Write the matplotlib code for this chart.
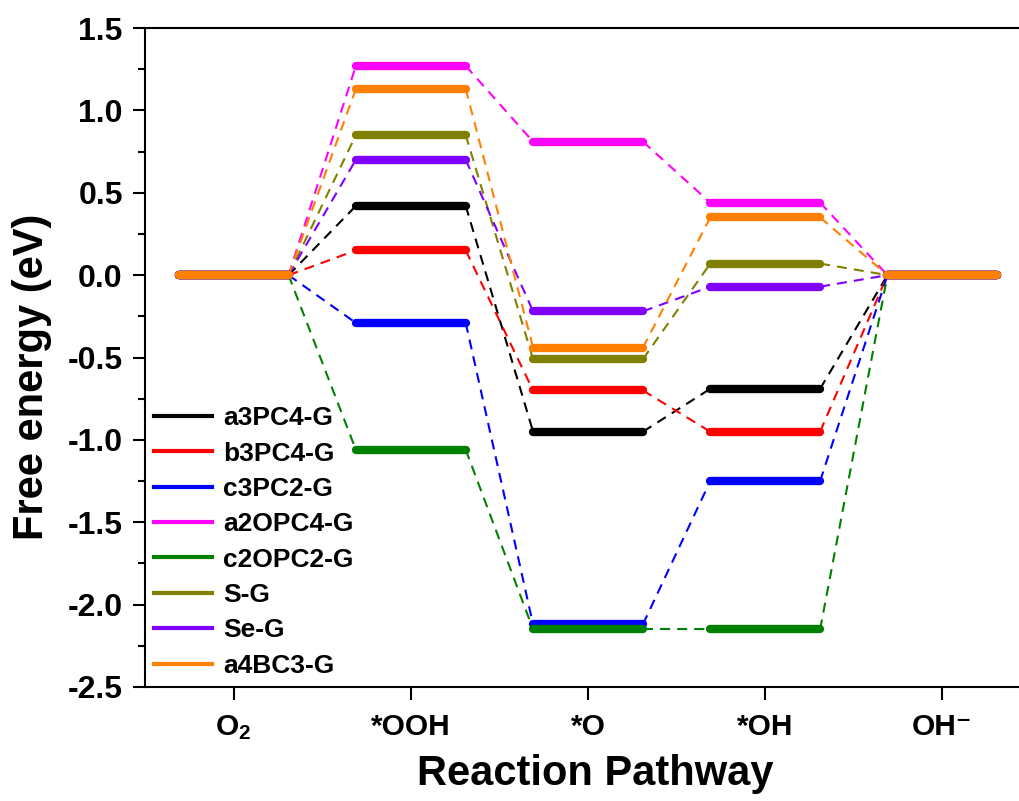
import matplotlib
matplotlib.use("Agg")
import matplotlib.pyplot as plt
from matplotlib.ticker import MultipleLocator, FormatStrFormatter

plt.rcParams['font.family'] = ['Liberation Sans', 'DejaVu Sans']
plt.rcParams['font.weight'] = 'bold'
plt.rcParams['mathtext.fontset'] = 'custom'
plt.rcParams['mathtext.rm'] = 'Liberation Sans:bold'
plt.rcParams['mathtext.bf'] = 'Liberation Sans:bold'
plt.rcParams['mathtext.default'] = 'rm'

steps = ['O$_2$', '*OOH', '*O', '*OH', 'OH⁻']
names = ['a3PC4-G', 'b3PC4-G', 'c3PC2-G', 'a2OPC4-G', 'c2OPC2-G', 'S-G', 'Se-G', 'a4BC3-G']
colors = ['#000000', '#FF0000', '#0000FF', '#FF00FF', '#008000', '#808000', '#8000FF', '#FF8000']

a3PC4_G = [0.0, 0.42, -0.95, -0.69, 0.0]
b3PC4_G = [0.0, 0.15, -0.70, -0.95, 0.0]
c3PC2_G = [0.0, -0.29, -2.12, -1.25, 0.0]
a2OPC4_G = [0.0, 1.27, 0.81, 0.44, 0.0]
c2OPC2_G = [0.0, -1.06, -2.15, -2.15, 0.0]
S_G = [0.0, 0.85, -0.51, 0.07, 0.0]
Se_G = [0.0, 0.70, -0.22, -0.07, 0.0]
a4BC3_G = [0.0, 1.13, -0.44, 0.35, 0.0]
series = [a3PC4_G, b3PC4_G, c3PC2_G, a2OPC4_G, c2OPC2_G, S_G, Se_G, a4BC3_G]

fig = plt.figure(figsize=(10.19, 8.01), dpi=100)
L, R, T, B = 145, 1031, 28, 687
ax = fig.add_axes([L / 1019, (801 - B) / 801, (R - L) / 1019, (B - T) / 801])

hw = 0.31
xs = list(range(1, len(steps) + 1))
for vals, c in zip(series, colors):
    for i in range(len(vals) - 1):
        ax.plot([xs[i] + hw, xs[i + 1] - hw], [vals[i], vals[i + 1]],
                color=c, lw=1.5, ls=(0, (4.8, 3.4)), zorder=2)
for vals, c, n in zip(series, colors, names):
    for i, v in enumerate(vals):
        ax.plot([xs[i] - hw, xs[i] + hw], [v, v], color=c, lw=6,
                solid_capstyle='round', zorder=3)
    ax.plot([], [], color=c, lw=3, label=n)

ax.set_xlim(0.5, 5.5)
ax.set_ylim(-2.5, 1.5)
ax.set_xticks(xs)
ax.set_xticklabels(steps)
ax.yaxis.set_major_locator(MultipleLocator(0.5))
ax.yaxis.set_minor_locator(MultipleLocator(0.25))
ax.yaxis.set_major_formatter(FormatStrFormatter('%.1f'))
ax.tick_params(axis='both', which='major', length=9, width=1.5, direction='out')
ax.tick_params(axis='x', which='major', labelsize=21.5, pad=10)
ax.tick_params(axis='y', which='major', labelsize=23, pad=7)
ax.tick_params(axis='y', which='minor', length=5, width=1.5, direction='out')
for s in ax.spines.values():
    s.set_linewidth(1.5)

ax.set_xlabel('Reaction Pathway', fontsize=30, fontweight='bold')
ax.set_ylabel('Free energy (eV)', fontsize=30, fontweight='bold')
ax.xaxis.set_label_coords(0.508, -0.102)
ax.yaxis.set_label_coords(-0.105, 0.47)

leg = ax.legend(loc='lower left', bbox_to_anchor=(0.0, 0.0), frameon=False,
                fontsize=19, handlelength=2.2, handletextpad=0.4, labelspacing=0.43,
                borderaxespad=0.15, borderpad=0.2)

fig.savefig('out.png', dpi=100)
